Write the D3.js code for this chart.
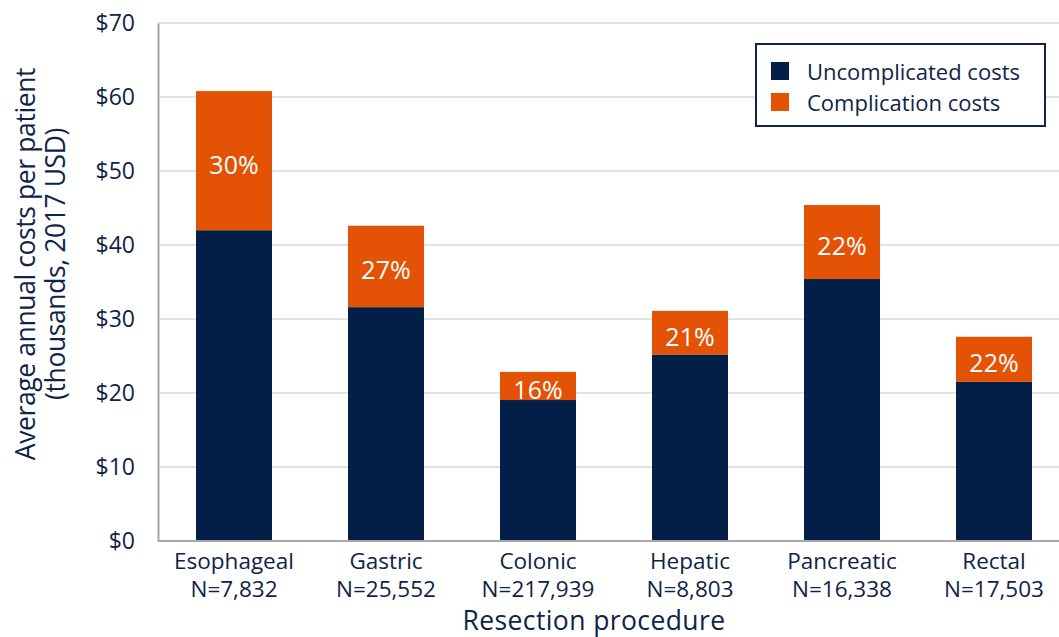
<!DOCTYPE html>
<html><head><meta charset="utf-8">
<script src="https://cdn.jsdelivr.net/npm/d3@7"></script>
<style>
body{margin:0;background:#fff;}
text{font-family:"Open Sans",Lato,sans-serif;}
</style></head>
<body><svg id="c" width="1059" height="637"></svg>
<script>
const categories = ["Esophageal","Gastric","Colonic","Hepatic","Pancreatic","Rectal"];
const sampleSizes = ["N=7,832","N=25,552","N=217,939","N=8,803","N=16,338","N=17,503"];
const uncomplicated = [42.0, 31.6, 19.05, 25.2, 35.4, 21.5];
const complication = [18.8, 11.0, 3.8, 5.9, 10.0, 6.1];
const pctLabels = ["30%","27%","16%","21%","22%","22%"];
const yTicks = [0,10,20,30,40,50,60,70];
const seriesNames = ["Uncomplicated costs","Complication costs"];
const colors = ["#031f47","#e35205"];
const textColor = "#0f2447";

(function(){
const svg = d3.select("#c");
const FONT = '"Open Sans",Lato,sans-serif';
const pL = 158, pR = 1070, pT = 23, pB = 541;
const x = d3.scaleBand().domain(categories).range([pL,pR]).paddingInner(0.5).paddingOuter(0.25);
const y = d3.scaleLinear().domain([0,70]).range([pB,pT]);

// gridlines
svg.append("g").selectAll("line").data(yTicks.slice(1)).join("line")
  .attr("x1",pL).attr("x2",1059).attr("y1",d=>y(d)).attr("y2",d=>y(d))
  .attr("stroke","#d9d9d9").attr("stroke-width",1.5);

const rows = categories.map((c,i)=>({cat:c,u:uncomplicated[i],c:complication[i],p:pctLabels[i]}));
const stack = d3.stack().keys(["u","c"])(rows);
svg.append("g").selectAll("g").data(stack).join("g").attr("fill",(d,i)=>colors[i])
  .selectAll("rect").data(d=>d).join("rect")
  .attr("x",d=>x(d.data.cat)).attr("width",x.bandwidth())
  .attr("y",d=>y(d[1])).attr("height",d=>y(d[0])-y(d[1]));

// pct labels
svg.append("g").selectAll("text").data(stack[1]).join("text")
  .attr("x",d=>x(d.data.cat)+x.bandwidth()/2)
  .attr("y",d=>(y(d[0])+y(d[1]))/2+3)
  .attr("dominant-baseline","central").attr("text-anchor","middle")
  .attr("fill","#fff").attr("font-size",25).text(d=>d.data.p);

// axes
const yAxis = svg.append("g").attr("transform",`translate(${pL},0)`)
  .call(d3.axisLeft(y).tickValues(yTicks).tickFormat(d=>"$"+d).tickSize(0).tickPadding(23));
yAxis.select(".domain").attr("stroke","#a6a6a6").attr("stroke-width",2);
yAxis.selectAll("text").attr("font-size",23).attr("fill",textColor).style("font-family",FONT);

const xAxis = svg.append("g").attr("transform",`translate(0,${pB})`)
  .call(d3.axisBottom(x).tickSize(0).tickFormat(""));
xAxis.select(".domain").attr("stroke","#a6a6a6").attr("stroke-width",2).attr("d",`M${pL},0H1059`);
xAxis.selectAll(".tick").each(function(d,i){
  const g = d3.select(this);
  g.append("text").attr("fill",textColor).attr("font-size",22.5).attr("text-anchor","middle")
    .style("font-family",FONT).attr("y",28).text(d);
  g.append("text").attr("fill",textColor).attr("font-size",22.5).attr("text-anchor","middle")
    .style("font-family",FONT).attr("y",56).text(sampleSizes[i]);
});

// axis titles
svg.append("text").attr("x",594).attr("y",630).attr("text-anchor","middle")
  .attr("fill",textColor).attr("font-size",26.5).attr("letter-spacing",0.4).text("Resection procedure");
[["Average annual costs per patient",35],["(thousands, 2017 USD)",65]].forEach(([t,bx])=>{
  svg.append("text").attr("transform",`translate(${bx},264) rotate(-90)`)
    .attr("text-anchor","middle").attr("fill",textColor).attr("font-size",26.5)
    .attr("letter-spacing",-0.4).text(t);
});

// legend
const lg = svg.append("g");
lg.append("rect").attr("x",756).attr("y",44).attr("width",289).attr("height",82)
  .attr("fill","#fff").attr("stroke","#0f2447").attr("stroke-width",2);
seriesNames.forEach((n,i)=>{
  lg.append("rect").attr("x",771).attr("y",62+i*31).attr("width",18).attr("height",18).attr("fill",colors[i]);
  lg.append("text").attr("x",807).attr("y",71+i*31).attr("dominant-baseline","central")
    .attr("fill",textColor).attr("font-size",22).text(n);
});
})();
</script></body></html>
